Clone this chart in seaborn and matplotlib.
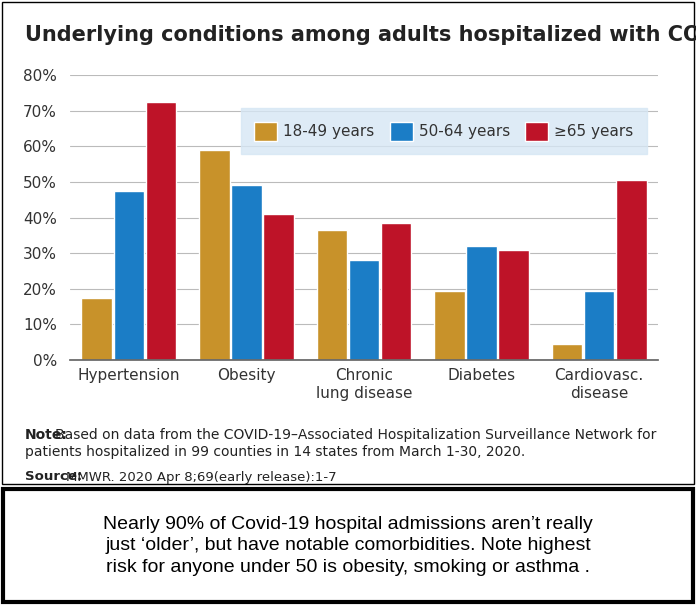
import matplotlib.pyplot as plt
import matplotlib.patches as mpatches
import pandas as pd
import seaborn as sns

categories = ['Hypertension', 'Obesity', 'Chronic\nlung disease', 'Diabetes', 'Cardiovasc.\ndisease']
age_groups = ['18-49 years', '50-64 years', '\u226565 years']
values_18_49 = [17.5, 59, 36.5, 19.5, 4.5]
values_50_64 = [47.5, 49, 28, 32, 19.5]
values_65 = [72.5, 41, 38.5, 31, 50.5]
colors = ['#C8922A', '#1B7DC6', '#BE1328']

df = pd.DataFrame({
    'condition': categories * 3,
    'age': [a for a in age_groups for _ in categories],
    'pct': values_18_49 + values_50_64 + values_65,
})

sns.set_theme(style='white')
narrow = ['Liberation Sans Narrow', 'DejaVu Sans']
plt.rcParams['font.family'] = narrow
W, H = 696, 605
fig = plt.figure(figsize=(W / 100, H / 100), dpi=100)
ax = fig.add_axes([70 / W, 1 - 360 / H, 588 / W, 285 / H])

sns.barplot(data=df, x='condition', y='pct', hue='age', palette=colors,
            width=0.82, gap=0.05, saturation=1, ax=ax)
ax.set_ylim(0, 80)
ax.set_yticks(range(0, 81, 10))
ax.set_yticklabels([f'{v}%' for v in range(0, 81, 10)], fontsize=11, color='#333333')
ax.tick_params(axis='x', labelsize=11, colors='#333333', length=0, pad=6)
ax.set_xlabel('')
ax.set_ylabel('')
ax.grid(axis='y', color='#bbbbbb', linewidth=0.8)
ax.set_axisbelow(True)
for s in ['top', 'right', 'left']:
    ax.spines[s].set_visible(False)
ax.spines['bottom'].set_color('#666666')

leg = ax.legend(loc='upper right', bbox_to_anchor=(0.995, 0.91), ncol=3, frameon=True,
                fontsize=11, handlelength=1.5, handleheight=1.5, columnspacing=1.0,
                handletextpad=0.4, borderpad=0.9, fancybox=False)
leg.get_frame().set_facecolor('#D6E6F4')
leg.get_frame().set_edgecolor('#D6E6F4')
for t in leg.get_texts():
    t.set_color('#333333')

fig.text(25 / W, 1 - 35 / H, 'Underlying conditions among adults hospitalized with COVID-19',
         fontsize=15, fontweight='bold', color='#222222', va='center')
fig.text(25 / W, 1 - 435 / H, 'Note:', fontsize=10, fontweight='bold', color='#222222', va='center')
fig.text(55 / W, 1 - 435 / H,
         'Based on data from the COVID-19\u2013Associated Hospitalization Surveillance Network for',
         fontsize=10, color='#222222', va='center')
fig.text(25 / W, 1 - 452 / H,
         'patients hospitalized in 99 counties in 14 states from March 1-30, 2020.',
         fontsize=10, color='#222222', va='center')
fig.text(25 / W, 1 - 477 / H, 'Source:', fontsize=9.5, fontweight='bold', color='#222222', va='center')
fig.text(66 / W, 1 - 477 / H, 'MMWR. 2020 Apr 8;69(early release):1-7',
         fontsize=9.5, color='#222222', va='center')

fig.patches.append(mpatches.Rectangle((2 / W, 1 - 484 / H), 692 / W, 482 / H,
                                      transform=fig.transFigure, fill=False,
                                      edgecolor='black', linewidth=1))
fig.patches.append(mpatches.Rectangle((3 / W, 3 / H), 690 / W, 113 / H,
                                      transform=fig.transFigure, fill=True, facecolor='white',
                                      edgecolor='black', linewidth=3))
fig.text(0.5, 1 - 546 / H,
         'Nearly 90% of Covid-19 hospital admissions aren\u2019t really\n'
         'just \u2018older\u2019, but have notable comorbidities. Note highest\n'
         'risk for anyone under 50 is obesity, smoking or asthma .',
         fontsize=14, ha='center', va='center', color='black', linespacing=1.35,
         family=['Liberation Sans', 'DejaVu Sans'])

fig.savefig('out.png', dpi=100)
